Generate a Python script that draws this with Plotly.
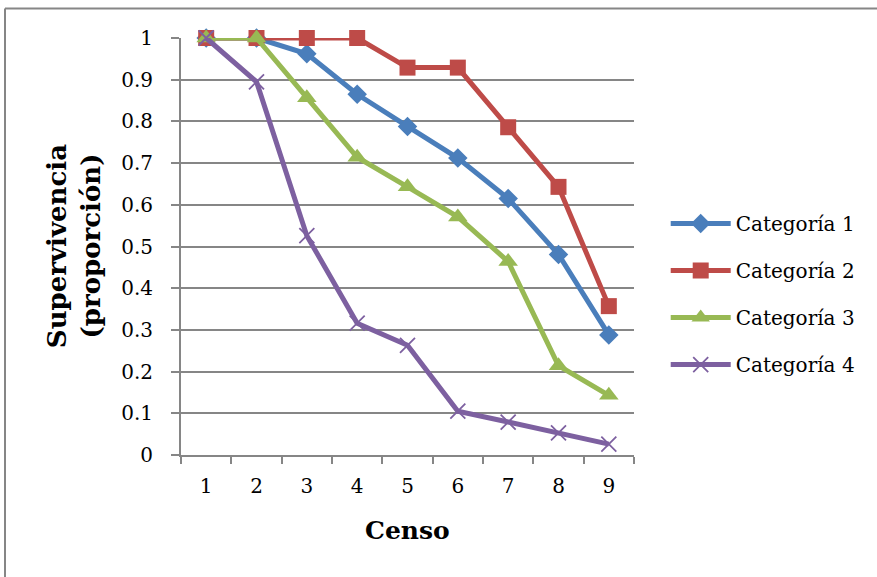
import plotly.graph_objects as go

censo = ["1", "2", "3", "4", "5", "6", "7", "8", "9"]
cat1 = [1.0, 1.0, 0.962, 0.865, 0.788, 0.712, 0.615, 0.481, 0.288]
cat2 = [1.0, 1.0, 1.0, 1.0, 0.929, 0.929, 0.786, 0.643, 0.357]
cat3 = [1.0, 1.0, 0.857, 0.714, 0.643, 0.571, 0.464, 0.214, 0.143]
cat4 = [1.0, 0.895, 0.526, 0.316, 0.263, 0.105, 0.079, 0.053, 0.026]
names = ["Categoría 1", "Categoría 2", "Categoría 3", "Categoría 4"]
yticks = [0, 0.1, 0.2, 0.3, 0.4, 0.5, 0.6, 0.7, 0.8, 0.9, 1]
yticktext = ["0", "0.1", "0.2", "0.3", "0.4", "0.5", "0.6", "0.7", "0.8", "0.9", "1"]

FONT = "DejaVu Serif"
GRID = "#868686"

series = [
    (cat1, "#4A7EBB", dict(symbol="diamond", size=15)),
    (cat2, "#BE4B48", dict(symbol="square", size=16)),
    (cat3, "#98B954", dict(symbol="triangle-up", size=17)),
    (cat4, "#7D60A0", dict(symbol="x-thin", size=15, line=dict(width=1.8, color="#7D60A0"))),
]

fig = go.Figure()
for i, (vals, col, mk) in enumerate(series):
    mk = dict(mk)
    mk["color"] = col
    fig.add_trace(go.Scatter(
        x=censo, y=vals, name=names[i], mode="lines+markers",
        line=dict(color=col, width=5), marker=mk, cliponaxis=False,
        legendgroup=f"g{i}",
    ))

fig.update_layout(
    width=877, height=577,
    margin=dict(l=181, r=243, t=38, b=122),
    paper_bgcolor="white", plot_bgcolor="white",
    font=dict(family=FONT, size=20, color="black"),
    showlegend=True,
    legend=dict(x=1.07, y=0.386, xanchor="left", yanchor="middle",
                font=dict(family=FONT, size=20, color="black"),
                tracegroupgap=18, itemwidth=60, bgcolor="rgba(0,0,0,0)"),
    xaxis=dict(type="category", range=[-0.5, 8.5], showgrid=False,
               showline=True, linecolor=GRID, linewidth=2,
               ticks="outside", tickson="boundaries", ticklen=7, tickcolor=GRID, tickwidth=2,
               ticklabelstandoff=12, tickfont=dict(family=FONT, size=20)),
    yaxis=dict(range=[0, 1], tickvals=yticks, ticktext=yticktext,
               showgrid=True, gridcolor=GRID, gridwidth=2,
               showline=True, linecolor=GRID, linewidth=2,
               ticks="outside", ticklen=8, tickcolor=GRID, tickwidth=2,
               ticklabelstandoff=14, tickfont=dict(family=FONT, size=20),
               zeroline=False),
    annotations=[
        dict(text="<b>Censo</b>", xref="paper", yref="paper", x=0.5, y=-0.18,
             xanchor="center", yanchor="middle", showarrow=False,
             font=dict(family=FONT, size=25, color="black")),
        dict(text="<b>Supervivencia<br>(proporción)</b>", xref="paper", yref="paper",
             x=-0.237, y=0.5, xanchor="center", yanchor="middle", textangle=-90,
             showarrow=False, font=dict(family=FONT, size=26, color="black")),
    ],
    shapes=[
        dict(type="line", xref="paper", yref="paper",
             x0=(5 - 181) / 453, x1=1.6, y0=1 + (38 - 8.5) / 417, y1=1 + (38 - 8.5) / 417,
             line=dict(color=GRID, width=2)),
        dict(type="line", xref="paper", yref="paper",
             x0=(5 - 181) / 453, x1=(5 - 181) / 453, y0=1 + (38 - 8.5) / 417, y1=-0.5,
             line=dict(color=GRID, width=2)),
    ],
)

fig.write_html("out.html")
